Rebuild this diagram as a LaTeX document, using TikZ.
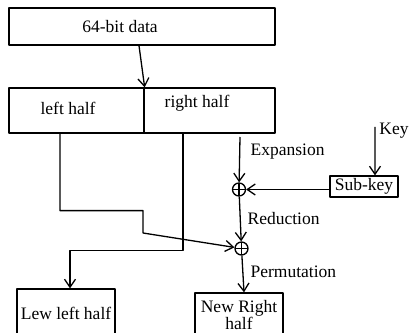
\documentclass[tikz,border=0pt]{standalone}
\usepackage{fontspec}
\setmainfont{Liberation Serif}
\usetikzlibrary{arrows.meta}
\tikzset{
  blk/.style={draw=black,rectangle,line width=1.3bp,inner sep=1bp},
  xorop/.style={draw=black,circle,line width=1.3bp,minimum size=13bp,inner sep=0pt,
    path picture={\draw[line width=1.1bp] (path picture bounding box.north) -- (path picture bounding box.south)
      (path picture bounding box.west) -- (path picture bounding box.east);}},
  lbl/.style={inner sep=0pt,anchor=west},
}
\begin{document}
\begin{tikzpicture}[>={Straight Barb[length=8bp,width=11bp]},line width=1.3bp,line join=bevel,
  font=\fontsize{17.5bp}{15bp}\selectfont]
\useasboundingbox (0bp,0bp) rectangle (415bp,333bp);
\clip (0bp,0bp) rectangle (415bp,333bp);
%%
\node (data) at (142bp,306.5bp) [blk,minimum width=266bp,minimum height=37bp,
  label={[xshift=-22bp]center:64-bit data}] {};
  \node (lhalf) at (76.5bp,222.5bp) [blk,minimum width=135bp,minimum height=45bp,
  label={[xshift=-8.5bp,yshift=2.5bp]center:left half}] {};
  \node (rhalf) at (209.5bp,222.5bp) [blk,minimum width=131bp,minimum height=45bp,
  label={[xshift=-12.5bp,yshift=7.5bp]center:right half}] {};
  \node (xor1) at (239bp,143.5bp) [xorop] {};
  \node (xor2) at (241.5bp,84.5bp) [xorop] {};
  \node (subkey) at (364bp,146.5bp) [blk,minimum width=68bp,minimum height=21bp] {Sub-key};
  \node (key) at (394bp,202bp) [inner sep=0pt] {Key};
  \node (expansion) at (250bp,181bp) [lbl] {Expansion};
  \node (reduction) at (247bp,114bp) [lbl] {Reduction};
  \node (permutation) at (250bp,61.5bp) [lbl] {Permutation};
  \node (lewleft) at (66bp,20bp) [blk,minimum width=98bp,minimum height=48bp] {Lew left half};
  \node (newright) at (239bp,18bp) [blk,minimum width=88bp,minimum height=44bp,align=center] {New Right\\half};
  \coordinate (keyin) at (375bp,206bp);
  \coordinate (expin) at (240bp,196bp);
  \draw [->,solid] ([xshift=-3bp]data.south) -- (lhalf.north east);
  \draw [->,solid] ([xshift=-16.5bp]lhalf.south) -- ++(0bp,-77bp) -| (143bp,100bp) -- (xor2);
  \draw [->,solid] ([xshift=-26.5bp]rhalf.south) -- ++(0bp,-117bp) -| ([xshift=4bp]lewleft.north);
  \draw [->,solid] (expin) -- (xor1);
  \draw [->,solid] (keyin) -- ([xshift=11bp]subkey.north);
  \draw [->,solid] (subkey.west |- xor1) -- (xor1);
  \draw [->,solid] (xor1) -- (xor2);
  \draw [->,solid] (xor2) -- ([xshift=5bp]newright.north);
%
\end{tikzpicture}
\end{document}
